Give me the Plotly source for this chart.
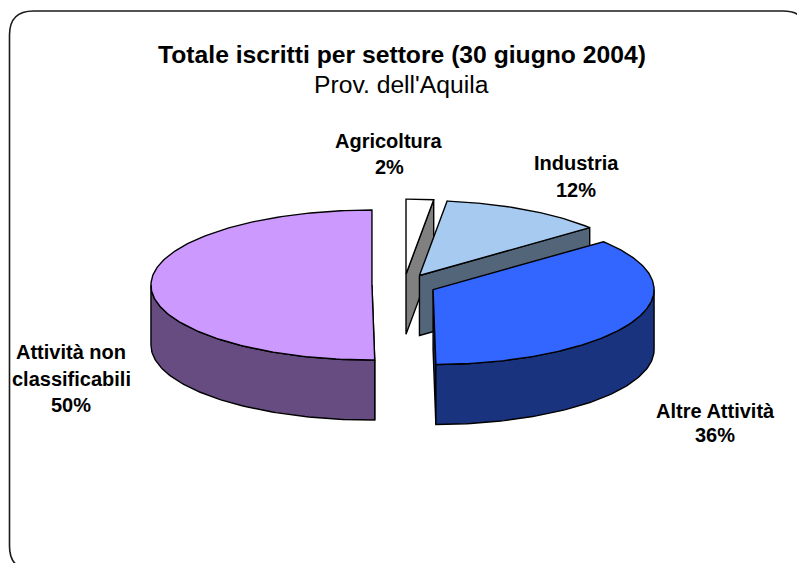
import numpy as np
import plotly.graph_objects as go

# Data (shares in %, printed labels are rounded)
categories = ["Agricoltura", "Industria", "Altre Attività", "Attività non classificabili"]
shares = [2.0, 12.0, 35.8, 50.2]
label_lines = [["Agricoltura", "2%"], ["Industria", "12%"], ["Altre Attività", "36%"],
               ["Attività non", "classificabili", "50%"]]
label_x = [389, 576, 715, 71]
label_y = [[141, 167], [163, 190], [411, 435], [352, 379, 405]]
top_colors = ["#FFFFFF", "#A6CAF0", "#3366FF", "#CC99FF"]
side_colors = ["#808080", "#536579", "#1A337F", "#664C80"]
title_text = "Totale iscritti per settore (30 giugno 2004)"
subtitle_text = "Prov. dell'Aquila"

# Projection of the tilted, exploded pie onto the page
CX, CY, RX, RY, DEPTH, EXPLODE = 404.0, 285.0, 221.0, 75.0, 60.0, 0.145
OUT = dict(color="#000000", width=1.4)

fig = go.Figure()


def poly(x, y, color):
    xs, ys = np.asarray(x, float), np.asarray(y, float)
    fig.add_trace(go.Scatter(
        x=np.r_[xs, xs[0]], y=np.r_[ys, ys[0]], mode="lines", fill="toself",
        fillcolor=color, line=OUT, hoverinfo="skip", showlegend=False))


edges = np.r_[0, np.cumsum(shares)] * 3.6
for i in range(len(categories)):
    a0, a1 = edges[i], edges[i + 1]
    mid = np.radians((a0 + a1) / 2)
    ax = CX + EXPLODE * RX * np.sin(mid)
    ay = CY - EXPLODE * RY * np.cos(mid)

    def rim(deg):
        r = np.radians(deg)
        return ax + RX * np.sin(r), ay - RY * np.cos(r)

    # Cut face that looks towards the viewer
    if a1 <= 90:
        ex, ey = rim(a1)
        poly([ax, ex, ex, ax], [ay, ey, ey + DEPTH, ay + DEPTH], side_colors[i])
    else:
        ex, ey = rim(min(a0, 180) if a0 > 90 else a1)
        poly([ax, ex, ex, ax], [ay, ey, ey + DEPTH, ay + DEPTH], side_colors[i])

    # Outer wall, front half only
    w0, w1 = max(a0, 90), min(a1, 270)
    if w1 > w0:
        wx, wy = rim(np.linspace(w0, w1, 90))
        poly(np.r_[wx, wx[::-1]], np.r_[wy, wy[::-1] + DEPTH], side_colors[i])

    # Top surface
    tx, ty = rim(np.linspace(a0, a1, 180))
    poly(np.r_[ax, tx], np.r_[ay, ty], top_colors[i])

ann = [
    dict(x=401.5, y=54, text=f"<b>{title_text}</b>", font=dict(size=24.7)),
    dict(x=401.5, y=84, text=subtitle_text, font=dict(size=24.7)),
]
for lines, lx, lys in zip(label_lines, label_x, label_y):
    for t, ly in zip(lines, lys):
        ann.append(dict(x=lx, y=ly, text=f"<b>{t}</b>", font=dict(size=20)))
for a in ann:
    a.update(xref="x", yref="y", showarrow=False, xanchor="center", yanchor="middle")

X0, Y0, X1, Y1, R = 9.5, 11, 807, 570, 24
fig.update_layout(
    width=797, height=563, margin=dict(l=0, r=0, t=0, b=0),
    paper_bgcolor="white", plot_bgcolor="white",
    font=dict(family="Liberation Sans, Arial, sans-serif", color="#000000"),
    xaxis=dict(range=[0, 797], visible=False, fixedrange=True),
    yaxis=dict(range=[563, 0], visible=False, fixedrange=True),
    annotations=ann, showlegend=False,
    shapes=[dict(type="path", xref="x", yref="y", layer="below",
                 line=dict(color="#1a1a1a", width=1.6),
                 path=(f"M{X0+R},{Y0} L{X1-R},{Y0} Q{X1},{Y0} {X1},{Y0+R} L{X1},{Y1-R} "
                       f"Q{X1},{Y1} {X1-R},{Y1} L{X0+R},{Y1} Q{X0},{Y1} {X0},{Y1-R} "
                       f"L{X0},{Y0+R} Q{X0},{Y0} {X0+R},{Y0} Z"))],
)
fig.write_html("out.html", config=dict(displayModeBar=False),
               post_script="document.body.style.margin='0';document.documentElement.style.overflow='hidden';")
